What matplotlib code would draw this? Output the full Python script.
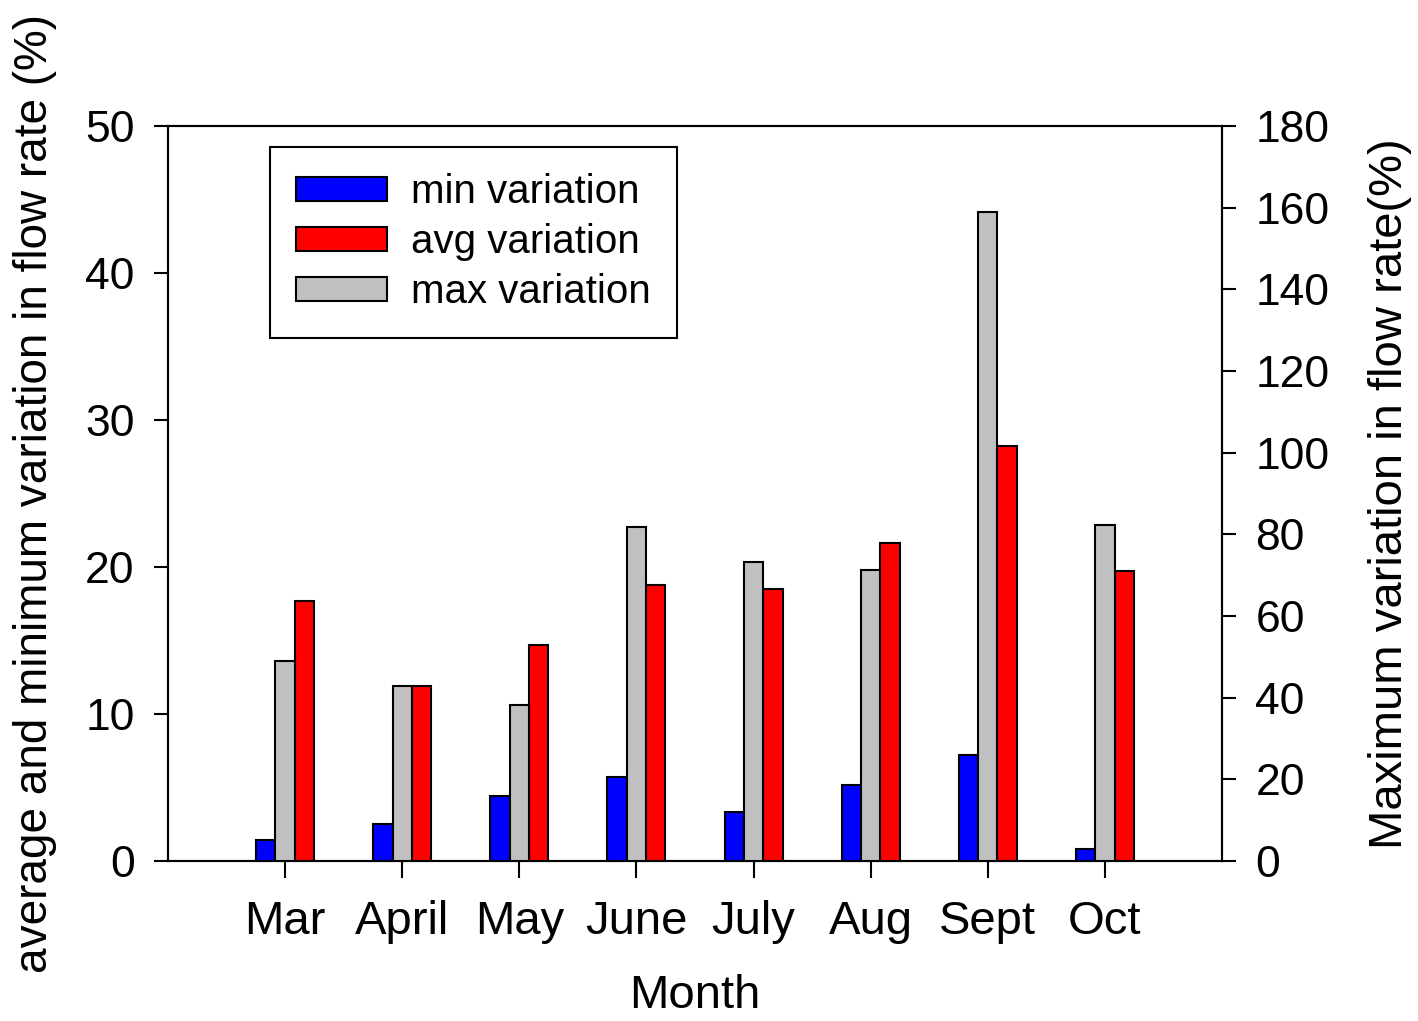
import numpy as np
import matplotlib
matplotlib.use("Agg")
import matplotlib.pyplot as plt
from matplotlib.patches import Patch

plt.rcParams['font.family'] = ['Liberation Sans', 'DejaVu Sans']

months = ['Mar', 'April', 'May', 'June', 'July', 'Aug', 'Sept', 'Oct']
min_var = [1.4, 2.5, 4.4, 5.7, 3.3, 5.2, 7.2, 0.8]
avg_var = [17.7, 11.9, 14.7, 18.8, 18.5, 21.6, 28.2, 19.7]
max_var = [49.0, 42.9, 38.2, 81.8, 73.2, 71.3, 159.0, 82.3]

x = np.arange(1, len(months) + 1)
w = 0.165

fig = plt.figure(figsize=(14.18, 10.21), dpi=100)
ax = fig.add_axes([0.1185, 0.1567, 0.7433, 0.7199])
ax2 = ax.twinx()

ax.bar(x - w, min_var, w, color='#0000ff', edgecolor='black', linewidth=1.5, zorder=3)
ax.bar(x + w, avg_var, w, color='#ff0000', edgecolor='black', linewidth=1.5, zorder=3)
ax2.bar(x, max_var, w, color='#c0c0c0', edgecolor='black', linewidth=1.5, zorder=3)

ax.set_xlim(0, 9)
ax.set_ylim(0, 50)
ax2.set_ylim(0, 180)
ax.set_xticks(x)
ax.set_xticklabels(months)
ax.set_yticks(range(0, 51, 10))
ax2.set_yticks(range(0, 181, 20))

for a in (ax, ax2):
    a.tick_params(axis='y', direction='out', length=10, width=1.5, labelsize=32, pad=14)
    for s in a.spines.values():
        s.set_linewidth(1.5)
ax.tick_params(axis='x', direction='out', length=12, width=1.5, labelsize=34, pad=16)

ax.set_xlabel('Month', fontsize=34, labelpad=22)
ax.set_ylabel('average and minimum variation in flow rate (%)', fontsize=33, labelpad=20)
ax2.set_ylabel('Maximum variation in flow rate(%)', fontsize=34, labelpad=28)

handles = [Patch(facecolor='#0000ff', edgecolor='black', linewidth=1.5),
           Patch(facecolor='#ff0000', edgecolor='black', linewidth=1.5),
           Patch(facecolor='#c0c0c0', edgecolor='black', linewidth=1.5)]
leg = ax2.legend(handles, ['min variation', 'avg variation', 'max variation'],
                 loc='upper left', bbox_to_anchor=(0.0968, 0.9714), fontsize=29,
                 fancybox=False, framealpha=1, edgecolor='black',
                 handlelength=2.26, handleheight=0.55, labelspacing=0.3,
                 borderpad=0.65, handletextpad=0.6, borderaxespad=0)
leg.get_frame().set_linewidth(1.5)

fig.savefig('out.png', dpi=100)
